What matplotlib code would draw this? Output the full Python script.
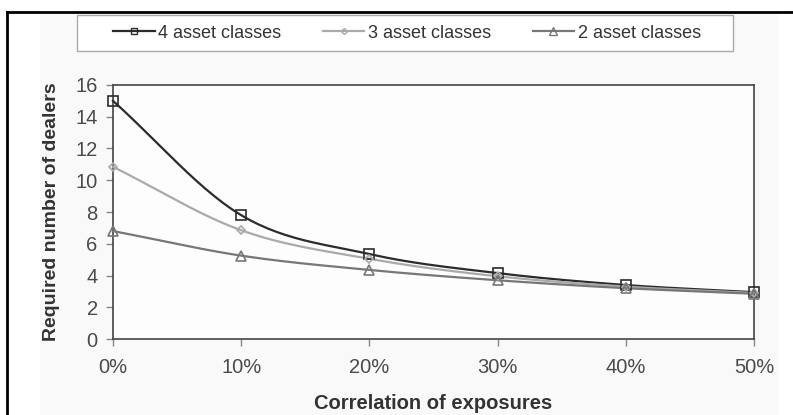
import numpy as np
import matplotlib.pyplot as plt
from matplotlib.lines import Line2D
from matplotlib.patches import Rectangle

plt.rcParams['font.family'] = ['Liberation Sans', 'DejaVu Sans']

# data
corr = [0, 10, 20, 30, 40, 50]
xlabels = ['0%', '10%', '20%', '30%', '40%', '50%']
four = [15.0, 7.8, 5.35, 4.15, 3.4, 2.95]
three = [10.85, 6.85, 5.05, 3.95, 3.3, 2.9]
two = [6.8, 5.25, 4.35, 3.7, 3.2, 2.85]
names = ['4 asset classes', '3 asset classes', '2 asset classes']


def smooth(x, y, n=30):
    # catmull-rom style smoothing like a spreadsheet "smoothed line"
    x = np.asarray(x, float)
    y = np.asarray(y, float)
    px = np.concatenate([[2 * x[0] - x[1]], x, [2 * x[-1] - x[-2]]])
    py = np.concatenate([[2 * y[0] - y[1]], y, [2 * y[-1] - y[-2]]])
    xs, ys = [], []
    t = np.linspace(0, 1, n)
    for i in range(1, len(px) - 2):
        for p, out in ((px, xs), (py, ys)):
            p0, p1, p2, p3 = p[i - 1], p[i], p[i + 1], p[i + 2]
            out.extend(0.5 * ((2 * p1) + (-p0 + p2) * t +
                              (2 * p0 - 5 * p1 + 4 * p2 - p3) * t ** 2 +
                              (-p0 + 3 * p1 - 3 * p2 + p3) * t ** 3))
    return xs, ys


fig = plt.figure(figsize=(7.93, 4.15), dpi=100)
fig.patches.append(Rectangle((40 / 793, 0), 737 / 793, 1 - 12 / 415,
                             transform=fig.transFigure, color='#f9f9f9',
                             zorder=-10))
ax = fig.add_axes([113 / 793, 1 - 339 / 415, 641 / 793, 254 / 415])
ax.set_facecolor('#fdfdfd')

series = [(four, '#2b2b2b', 's', 7), (three, '#aaaaaa', 'D', 4.5), (two, '#777777', '^', 7.5)]
handles = []
for (vals, col, mk, ms), nm in zip(series, names):
    sx, sy = smooth(corr, vals)
    ax.plot(sx, sy, color=col, lw=1.6, clip_on=False, zorder=3)
    ax.plot(corr, vals, ls='none', marker=mk, ms=ms, mfc='none', mec=col,
            mew=1.2, clip_on=False, zorder=4)
    handles.append(Line2D([], [], color=col, lw=1.6, marker=mk, ms=ms * 0.7,
                          mfc='none', mec=col, mew=1.0))

ax.set_xlim(0, 50)
ax.set_ylim(0, 16)
ax.set_xticks(corr)
ax.set_xticklabels(xlabels)
ax.set_yticks(range(0, 17, 2))
for s in ax.spines.values():
    s.set_color('#444444')
    s.set_linewidth(1.2)
ax.tick_params(direction='out', length=5, width=1, color='#888888',
               labelsize=14.5, labelcolor='#4a4a4a', pad=6)
ax.tick_params(axis='x', pad=9)

ax.set_xlabel('Correlation of exposures', fontsize=14.5, fontweight='bold',
              color='#333333', labelpad=12)
ax.set_ylabel('Required number of dealers', fontsize=14, fontweight='bold',
              color='#333333', labelpad=11)

# legend box drawn on its own, legend entries centred inside it
fig.patches.append(Rectangle((77 / 793, 1 - 51 / 415), 656 / 793, 36 / 415,
                             transform=fig.transFigure, facecolor='white',
                             edgecolor='#aaaaaa', lw=1.0, zorder=1))
leg = fig.legend(handles, names, loc='center', ncol=3,
                 bbox_to_anchor=(407 / 793, 1 - 33 / 415),
                 frameon=False, fontsize=13, handlelength=2.3,
                 handletextpad=0.2, columnspacing=2.3, borderpad=0.3)
for t in leg.get_texts():
    t.set_color('#333333')

# black frame left and top from the screenshot
fig.add_artist(Line2D([7 / 793, 7 / 793], [0, 1 - 12 / 415], color='black',
                      lw=2, transform=fig.transFigure))
fig.add_artist(Line2D([7 / 793, 1], [1 - 12 / 415, 1 - 12 / 415], color='black',
                      lw=2, transform=fig.transFigure))

fig.savefig('out.png', dpi=100, facecolor='white')
